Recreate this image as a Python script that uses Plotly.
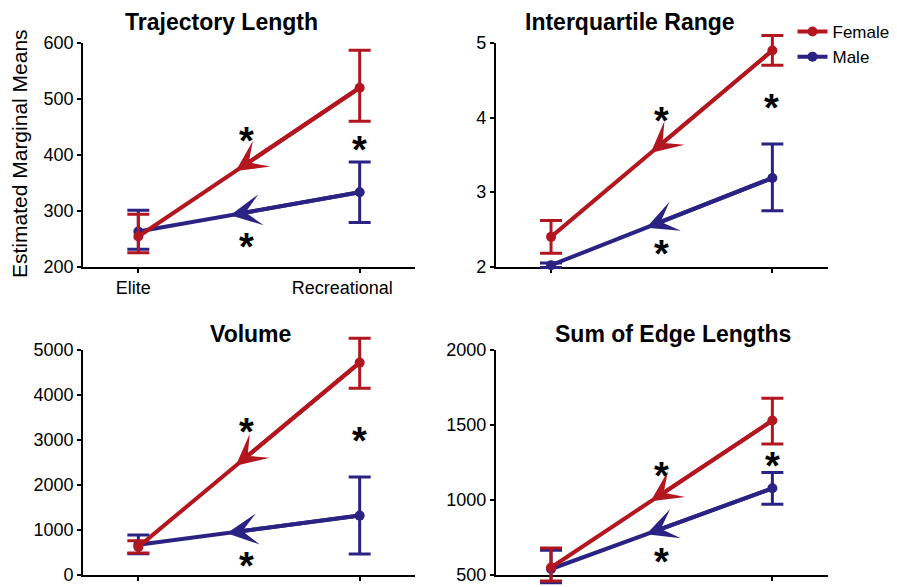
import plotly.graph_objects as go

# ---------------- data ----------------
groups = ["Elite", "Recreational"]
sexes = ["Female", "Male"]
titles = ["Trajectory Length", "Interquartile Range", "Volume", "Sum of Edge Lengths"]
y_title = "Estimated Marginal Means"

# Trajectory Length
traj_female = [254, 520]
traj_female_lo = [225, 460]
traj_female_hi = [294, 587]
traj_male = [263, 333]
traj_male_lo = [231, 279]
traj_male_hi = [301, 387]
traj_ticks = [200, 300, 400, 500, 600]

# Interquartile Range
iqr_female = [2.40, 4.90]
iqr_female_lo = [2.18, 4.70]
iqr_female_hi = [2.62, 5.10]
iqr_male = [2.02, 3.19]
iqr_male_lo = [1.99, 2.75]
iqr_male_hi = [2.05, 3.645]
iqr_ticks = [2, 3, 4, 5]

# Volume
vol_female = [625, 4720]
vol_female_lo = [490, 4150]
vol_female_hi = [760, 5260]
vol_male = [670, 1320]
vol_male_lo = [470, 465]
vol_male_hi = [890, 2180]
vol_ticks = [0, 1000, 2000, 3000, 4000, 5000]

# Sum of Edge Lengths
edge_female = [550, 1530]
edge_female_lo = [460, 1373]
edge_female_hi = [680, 1678]
edge_male = [540, 1078]
edge_male_lo = [448, 971]
edge_male_hi = [665, 1184]
edge_ticks = [500, 1000, 1500, 2000]

# significance stars (x as fraction Elite->Recreational, y in data units)
traj_star_x = [0.49, 0.49, 1.0]
traj_star_y = [432, 242, 415]
iqr_star_x = [0.50, 0.50, 0.995]
iqr_star_y = [4.01, 2.22, 4.18]
vol_star_x = [0.49, 0.49, 1.0]
vol_star_y = [3260, 296, 3074]
edge_star_x = [0.50, 0.50, 1.0]
edge_star_y = [1189, 611, 1256]

# where the direction arrowheads sit along each line (female, male)
traj_arrow_at = [0.44, 0.415]
iqr_arrow_at = [0.45, 0.43]
vol_arrow_at = [0.44, 0.40]
edge_arrow_at = [0.45, 0.43]

# ---------------- styling ----------------
FONT = "Liberation Sans, Arial, Helvetica, sans-serif"
RED = "#B3161F"
BLUE = "#2B2383"
colors = {"Female": RED, "Male": BLUE}

panels = [
    dict(f=traj_female, flo=traj_female_lo, fhi=traj_female_hi,
         m=traj_male, mlo=traj_male_lo, mhi=traj_male_hi, ticks=traj_ticks,
         sx=traj_star_x, sy=traj_star_y, arr=traj_arrow_at),
    dict(f=iqr_female, flo=iqr_female_lo, fhi=iqr_female_hi,
         m=iqr_male, mlo=iqr_male_lo, mhi=iqr_male_hi, ticks=iqr_ticks,
         sx=iqr_star_x, sy=iqr_star_y, arr=iqr_arrow_at),
    dict(f=vol_female, flo=vol_female_lo, fhi=vol_female_hi,
         m=vol_male, mlo=vol_male_lo, mhi=vol_male_hi, ticks=vol_ticks,
         sx=vol_star_x, sy=vol_star_y, arr=vol_arrow_at),
    dict(f=edge_female, flo=edge_female_lo, fhi=edge_female_hi,
         m=edge_male, mlo=edge_male_lo, mhi=edge_male_hi, ticks=edge_ticks,
         sx=edge_star_x, sy=edge_star_y, arr=edge_arrow_at),
]

# page offset of the figure (default body margin) and figure size
OFF = 8
W, H = 897 - OFF, 587 - OFF


def px(xp):
    return (xp - OFF) / W


def py(yp):
    return 1 - (yp - OFF) / H


x_domains = [[px(83), px(415)], [px(495.7), px(827.7)],
             [px(83), px(415)], [px(495.7), px(827.7)]]
y_domains = [[py(266.7), py(43)], [py(266.7), py(43)],
             [py(575), py(350)], [py(575), py(350)]]
# extra room (px) below / above each visible plot area so that error bars are not clipped
ext_px = [(30, 30), (30, 30), (12, 30), (12, 30)]
title_pos = [(221.7, 22), (630, 22), (250.7, 334), (672.5, 334)]

xpos = list(range(len(groups)))
XR = [-0.25, 1.25]

fig = go.Figure()
layout = {}

axis_common = dict(type="linear", visible=True,
                   showline=True, linecolor="black", linewidth=1.6,
                   ticks="outside", ticklen=4, tickwidth=1.5, tickcolor="black",
                   showgrid=False, zeroline=False, automargin=False,
                   tickfont=dict(family=FONT, size=18, color="black"))

for i, p in enumerate(panels):
    ticks = p["ticks"]
    n = "" if i == 0 else str(i + 1)
    k = str(i + 5)
    xr, yr = "x" + k, "y" + k

    # hidden axes with identical scale but a taller area (no clipping of error bars)
    d0, d1 = y_domains[i]
    r0, r1 = ticks[0], ticks[-1]
    per = (r1 - r0) / (d1 - d0)
    e_lo, e_hi = ext_px[i][0] / H, ext_px[i][1] / H
    e_lo = min(e_lo, d0)
    layout["xaxis" + k] = dict(type="linear", domain=x_domains[i], range=XR, anchor=yr,
                               visible=False, automargin=False)
    layout["yaxis" + k] = dict(type="linear", domain=[d0 - e_lo, d1 + e_hi],
                               range=[r0 - e_lo * per, r1 + e_hi * per],
                               anchor=xr, visible=False, automargin=False)

    # visible axes (ticks + axis lines); an invisible trace keeps the subplot alive
    fig.add_trace(go.Scatter(x=[xpos[0]], y=[ticks[0]], mode="markers",
                             marker=dict(opacity=0), showlegend=False,
                             hoverinfo="skip", xaxis="x" + n, yaxis="y" + n))
    layout["xaxis" + n] = dict(
        domain=x_domains[i], range=XR, anchor="y" + n,
        tickmode="array", tickvals=xpos,
        ticktext=(["Elite\u00a0\u00a0", "Recreational" + "\u00a0" * 7] if i == 0 else ["", ""]),
        **axis_common)
    layout["yaxis" + n] = dict(
        domain=y_domains[i], range=[ticks[0], ticks[-1]], anchor="x" + n,
        tickmode="array", tickvals=ticks, ticktext=[str(t) for t in ticks],
        **axis_common)

    series = [("Male", p["m"], p["mlo"], p["mhi"]),
              ("Female", p["f"], p["flo"], p["fhi"])]
    for name, mean, lo, hi in series:
        c = colors[name]
        fig.add_trace(go.Scatter(
            x=xpos, y=mean, name=name, mode="lines+markers",
            xaxis=xr, yaxis=yr,
            line=dict(color=c, width=4),
            marker=dict(color=c, size=10),
            error_y=dict(type="data", symmetric=False,
                         array=[h - v for h, v in zip(hi, mean)],
                         arrayminus=[v - l for l, v in zip(lo, mean)],
                         color=c, thickness=3, width=11),
            showlegend=(i == 0), legendrank=(1 if name == "Female" else 2),
            cliponaxis=False, hoverinfo="skip",
        ))
    # direction arrowheads (pointing from Recreational back to Elite)
    for (name, mean), t in zip([("Female", p["f"]), ("Male", p["m"])], p["arr"]):
        ty = mean[0] + (mean[1] - mean[0]) * t
        fig.add_annotation(x=t, y=ty, ax=1, ay=mean[1], xref=xr, yref=yr,
                           axref=xr, ayref=yr, text="", showarrow=True,
                           arrowhead=3, arrowsize=1.3, arrowwidth=4,
                           arrowcolor=colors[name], standoff=0)
    # stars
    for sx, sy in zip(p["sx"], p["sy"]):
        fig.add_annotation(x=sx, y=sy, xref=xr, yref=yr, text="<b>*</b>",
                           showarrow=False, yshift=-4,
                           font=dict(family=FONT, size=38, color="black"))
    # title
    tx, ty = title_pos[i]
    fig.add_annotation(x=px(tx), y=py(ty), xref="paper", yref="paper",
                       text="<b>%s</b>" % titles[i], showarrow=False,
                       xanchor="center", yanchor="middle",
                       font=dict(family=FONT, size=23, color="black"))

fig.add_annotation(x=px(20), y=py(154), xref="paper", yref="paper",
                   text=y_title, textangle=-90, showarrow=False,
                   xanchor="center", yanchor="middle",
                   font=dict(family=FONT, size=21, color="black"))

fig.update_layout(
    width=W, height=H,
    margin=dict(l=0, r=0, t=0, b=0),
    paper_bgcolor="white", plot_bgcolor="rgba(0,0,0,0)",
    font=dict(family=FONT, color="black"),
    legend=dict(x=784.5 / W, y=1 - 6 / H, xanchor="left", yanchor="top",
                font=dict(family=FONT, size=17, color="black"),
                bgcolor="rgba(0,0,0,0)", itemwidth=30, tracegroupgap=0),
    **layout,
)

fig.write_html("out.html")
